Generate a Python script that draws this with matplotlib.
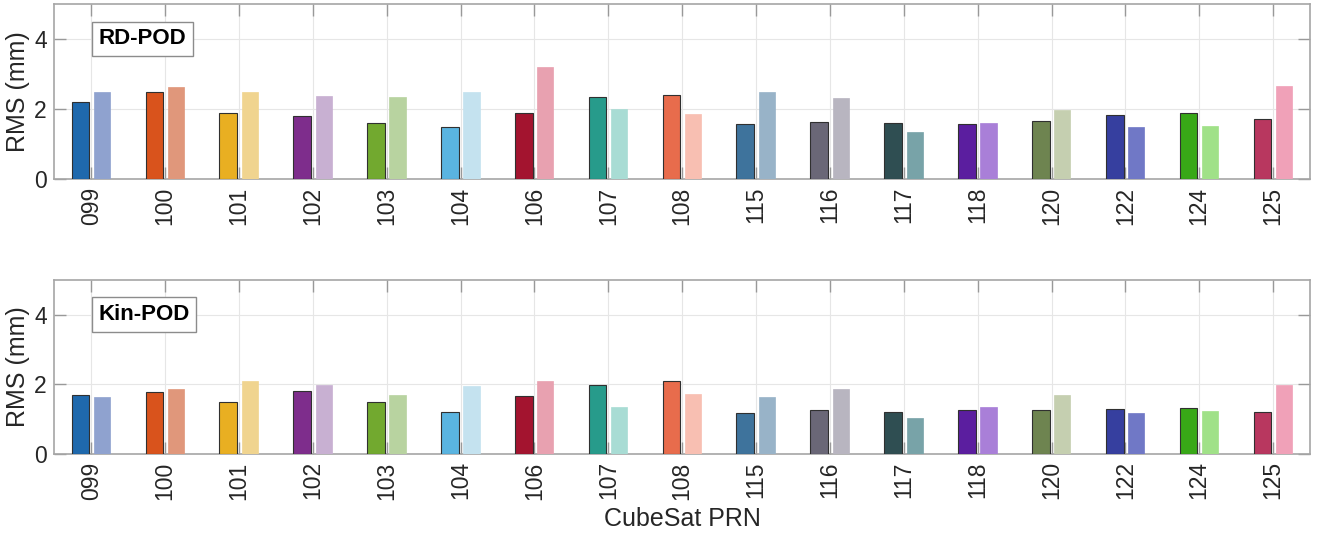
import numpy as np
import matplotlib
matplotlib.use('Agg')
import matplotlib.pyplot as plt

plt.rcParams['font.family'] = ['Liberation Sans', 'DejaVu Sans']

# CubeSat PRNs
prns = ['099', '100', '101', '102', '103', '104', '106', '107', '108',
        '115', '116', '117', '118', '120', '122', '124', '125']

# RMS values (mm), first and second bar of each PRN
rd_first = [2.20, 2.50, 1.90, 1.81, 1.60, 1.50, 1.89, 2.36, 2.41,
            1.58, 1.63, 1.62, 1.57, 1.67, 1.84, 1.89, 1.73]
rd_second = [2.49, 2.63, 2.50, 2.39, 2.36, 2.49, 3.22, 2.00, 1.87,
             2.49, 2.33, 1.36, 1.60, 1.97, 1.50, 1.53, 2.67]
kin_first = [1.69, 1.77, 1.49, 1.80, 1.49, 1.19, 1.67, 1.99, 2.10,
             1.17, 1.27, 1.19, 1.27, 1.26, 1.30, 1.32, 1.19]
kin_second = [1.64, 1.87, 2.10, 1.98, 1.68, 1.94, 2.10, 1.34, 1.72,
              1.63, 1.87, 1.04, 1.34, 1.69, 1.18, 1.22, 1.99]

dark_colors = ['#1f69ad', '#d9531c', '#e9af22', '#7e2d8c', '#72a92f',
               '#5ab4e0', '#a3142f', '#279b8b', '#e86c4c', '#3e739c',
               '#6a6777', '#2f4e52', '#5b1e9f', '#6e8450', '#363f9f',
               '#38a817', '#b8375f']
light_colors = ['#8fa2cf', '#e0977b', '#f0d48f', '#c8b0d2', '#b8d3a0',
                '#c4e2ef', '#e8a1b0', '#a8dcd4', '#f8bfb2', '#98b3c8',
                '#b8b5c0', '#78a3a8', '#a97fd8', '#c5cfb0', '#7078c6',
                '#a0e188', '#f0a1b8']

panels = [('RD-POD', rd_first, rd_second), ('Kin-POD', kin_first, kin_second)]

fig = plt.figure(figsize=(13.19, 5.33), dpi=100)
positions = [[0.0412, 0.6636, 0.952, 0.3284], [0.0412, 0.1488, 0.952, 0.3251]]

x = np.arange(len(prns))
for pos, (name, first, second) in zip(positions, panels):
    ax = fig.add_axes(pos)
    ax.bar(x - 0.145, first, width=0.24, color=dark_colors,
           edgecolor='#303030', linewidth=0.8, zorder=3)
    ax.bar(x + 0.147, second, width=0.22, color=light_colors,
           edgecolor=light_colors, linewidth=0.5, zorder=3)
    ax.set_xlim(-0.5, len(prns) - 0.5)
    ax.set_ylim(0, 5)
    ax.set_yticks([0, 2, 4])
    ax.set_xticks(x)
    ax.set_xticklabels(prns, rotation=90)
    ax.grid(True, color='#e6e6e6', linewidth=0.8, zorder=0)
    ax.set_axisbelow(True)
    ax.tick_params(direction='in', length=8.6, width=1, color='#999999',
                   top=True, right=True, labelsize=16.5, labelcolor='#262626',
                   pad=5.5)
    for s in ax.spines.values():
        s.set_color('#a6a6a6')
        s.set_linewidth(1.2)
    ax.set_ylabel('RMS (mm)', fontsize=18, color='#262626', labelpad=3)
    ax.text(0.035, 0.803, name, transform=ax.transAxes, fontsize=16,
            fontweight='bold', color='black', va='center', ha='left',
            bbox=dict(boxstyle='square,pad=0.3', facecolor='white',
                      edgecolor='#8c8c8c', linewidth=1))

ax.set_xlabel('CubeSat PRN', fontsize=18, color='#262626', labelpad=5)

fig.savefig('out.png', dpi=100)
